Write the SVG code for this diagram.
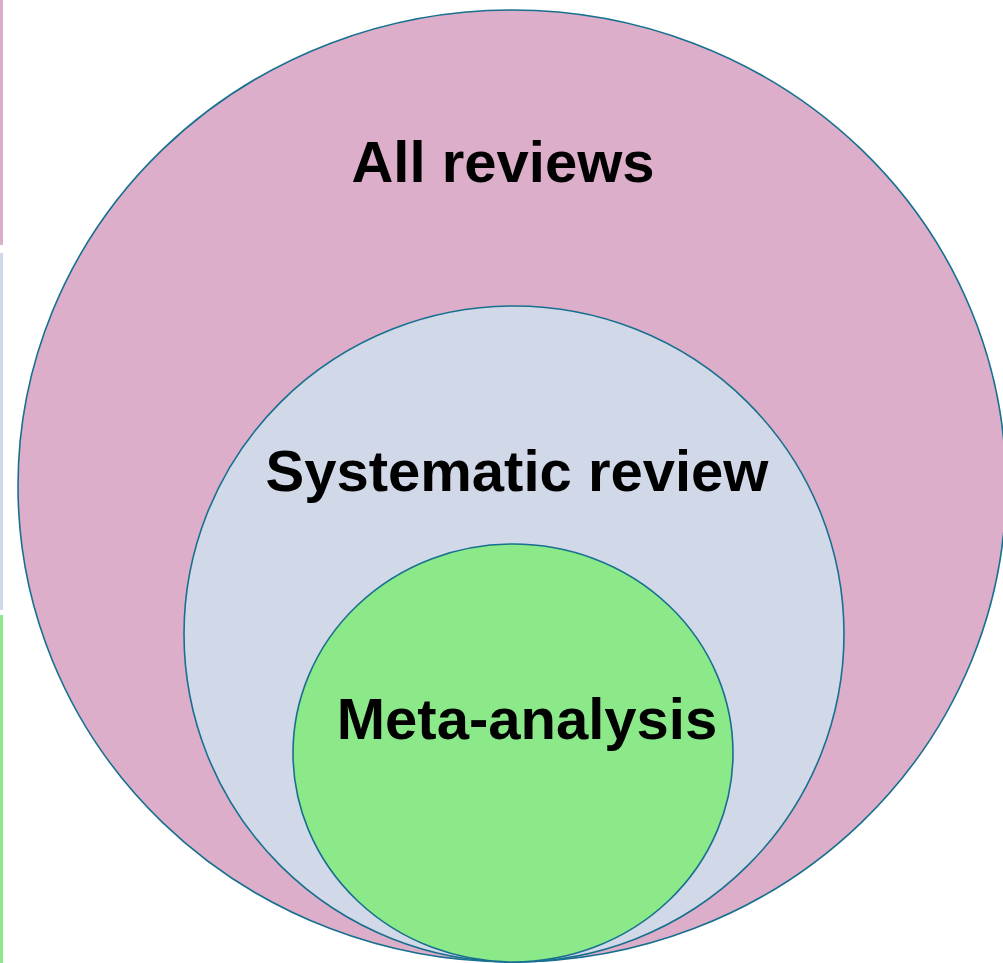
<svg xmlns="http://www.w3.org/2000/svg" width="1003" height="963" viewBox="0 0 1003 963">
<style>
.c{stroke:#17708f;stroke-width:1.6}
.t{font-family:"Liberation Sans",Arial,sans-serif;font-weight:bold;font-size:58px;fill:#000;text-anchor:middle}
</style>
<rect width="1003" height="963" fill="#fff"/>
<g id="legend">
<rect x="0" y="0" width="3" height="245" fill="#ddaec9"/>
<rect x="0" y="253" width="3" height="357" fill="#d1d8e8"/>
<rect x="0" y="615" width="3" height="348" fill="#8be98a"/>
</g>
<g id="all-reviews">
<ellipse class="c" cx="512" cy="486" rx="494" ry="476" fill="#ddaec9"/>
<text class="t" x="503" y="182">All reviews</text>
</g>
<g id="systematic-review">
<ellipse class="c" cx="514" cy="634" rx="330" ry="328" fill="#d1d8e8"/>
<text class="t" x="517" y="491">Systematic review</text>
</g>
<g id="meta-analysis">
<ellipse class="c" cx="513" cy="753" rx="220" ry="209" fill="#8be98a"/>
<text class="t" x="527" y="739">Meta-analysis</text>
</g>
<g id="connectors"/>
</svg>
